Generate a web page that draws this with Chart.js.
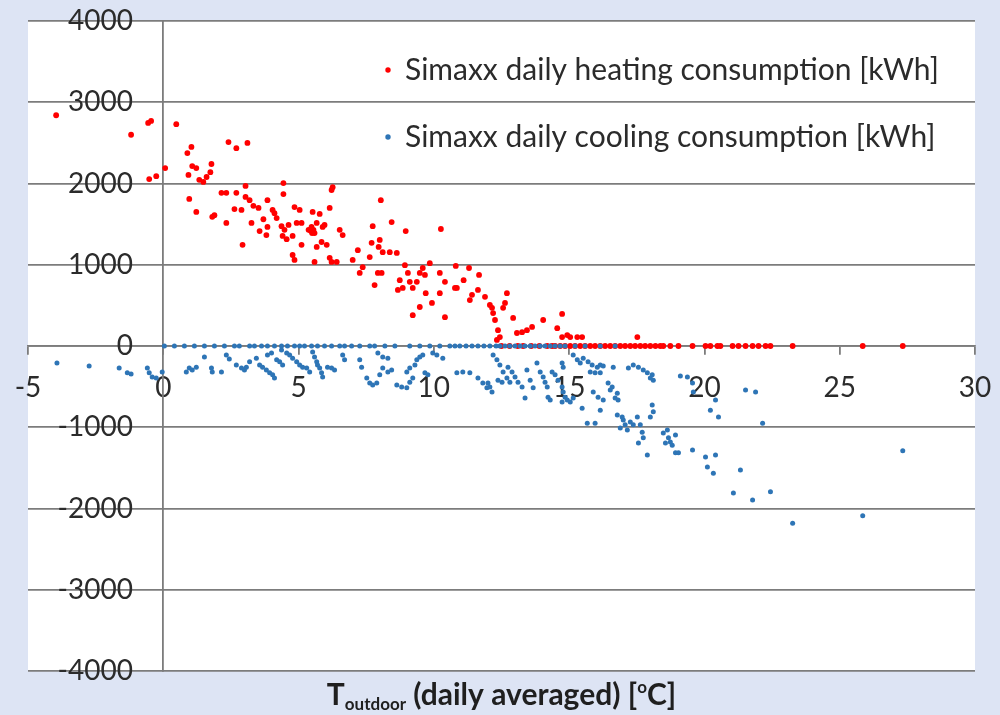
<!DOCTYPE html>
<html>
<head>
<meta charset="utf-8">
<title>Simaxx daily consumption vs outdoor temperature</title>
<script src="https://cdn.jsdelivr.net/npm/chart.js@4.4.0/dist/chart.umd.min.js"></script>
<style>
  html, body { margin: 0; padding: 0; background: #dde4f4; }
  #wrap { width: 1000px; height: 715px; position: relative; }
</style>
</head>
<body>
<div id="wrap"><canvas id="chart"></canvas></div>
<script>
// daily averaged outdoor temperature [°C] and heating consumption [kWh]
const heatingTemp = [
  -3.96, -1.19, -0.56, -0.45, 0.48, -0.52, -0.26, 0.07, 1.04, 0.89,
  1.07, 1.22, 0.93, 1.33, 1.48, 1.78, 1.74, 2.41, 2.70, 3.11,
  0.96, 1.22, 1.81, 1.89, 2.33, 2.15, 2.33, 2.70, 3.04, 3.04,
  2.63, 2.89, 3.19, 3.33, 3.52, 3.85, 4.44, 4.44, 6.26, 6.22,
  6.15, 2.93, 3.26, 3.56, 3.81, 3.85, 4.04, 4.11, 4.19, 4.37,
  4.48, 4.41, 4.56, 4.78, 4.85, 5.04, 4.78, 4.85, 5.11, 4.93,
  5.11, 5.37, 5.52, 5.59, 5.48, 5.67, 5.52, 5.78, 5.67, 5.59,
  5.89, 5.96, 5.85, 6.04, 6.15, 6.22, 6.41, 6.52, 6.63, 7.00,
  7.19, 7.26, 7.37, 7.63, 7.74, 8.04, 8.44, 7.70, 8.00, 7.96,
  8.11, 8.37, 8.63, 7.81, 7.93, 8.07, 8.96, 8.93, 8.74, 8.85,
  8.67, 9.11, 9.22, 9.37, 9.48, 9.59, 9.67, 9.85, 10.26, 10.41,
  10.41, 9.70, 9.93, 9.48, 9.22, 10.22, 10.81, 10.85, 11.30, 11.67,
  11.41, 11.33, 11.63, 11.89, 12.07, 12.15, 12.19, 12.26, 12.37, 12.44,
  12.33, 12.70, 12.63, 12.56, 12.93, 13.07, 13.26, 13.44, 13.63, 14.04,
  14.56, 14.74, 14.74, 14.93, 15.04, 15.30, 15.48, 17.52, 10.22, 10.78,
  5.45, 5.50, 5.55, 4.63, 3.70, 1.60, 9.04, 11.10,
  12.50, 12.80, 13.10, 13.30, 13.60, 13.90, 14.19, 14.37, 14.48, 14.67,
  14.85, 15.04, 15.22, 15.41, 15.59, 15.78, 15.96, 16.15, 16.33, 16.52,
  16.70, 16.89, 17.07, 17.26, 17.44, 17.63, 17.81, 18.00, 18.19, 18.37,
  18.48, 18.74, 19.04, 19.56, 20.04, 20.22, 20.48, 20.59, 21.04, 21.26,
  21.52, 21.78, 22.00, 22.26, 22.44, 23.26, 25.85, 27.33
];
const heatingKwh = [
  2840, 2600, 2745, 2770, 2730, 2055, 2090, 2190, 2450, 2375,
  2215, 2190, 2105, 2045, 2020, 2240, 2140, 2510, 2435, 2500,
  1810, 1650, 1590, 1610, 1515, 1885, 1885, 1885, 1970, 1835,
  1685, 1675, 1795, 1725, 1700, 1795, 2005, 1870, 1955, 1920,
  1700, 1245, 1515, 1415, 1365, 1465, 1675, 1635, 1575, 1475,
  1430, 1355, 1315, 1355, 1710, 1675, 1120, 1060, 1245, 1515,
  1515, 1430, 1405, 1390, 1465, 1515, 1650, 1625, 1220, 1035,
  1465, 1490, 1280, 1245, 1085, 1035, 1035, 1430, 1365, 1060,
  1180, 900, 970, 1095, 1475, 1795, 1525, 1270, 1305, 1220,
  1155, 1155, 1145, 750, 900, 900, 1415, 995, 810, 715,
  690, 790, 715, 790, 900, 960, 875, 1020, 1440, 790,
  355, 650, 530, 480, 380, 650, 985, 715, 960, 875,
  630, 565, 690, 605, 505, 470, 405, 320, 195, 110,
  75, 650, 530, 470, 345, 160, 170, 195, 235, 320,
  220, 395, 110, 135, 110, 110, 110, 110, 900, 715,
  1420, 1390, 1430, 1490, 1560, 2080, 900, 810,
  0, 0, 0, 0, 0, 0, 0, 0, 0, 0,
  0, 0, 0, 0, 0, 0, 0, 0, 0, 0,
  0, 0, 0, 0, 0, 0, 0, 0, 0, 0,
  0, 0, 0, 0, 0, 0, 0, 0, 0, 0,
  0, 0, 0, 0, 0, 0, 0, 0
];

// daily averaged outdoor temperature [°C] and cooling consumption [kWh]
const coolingTemp = [
  -3.93, -2.74, -1.63, -1.33, -1.19, -0.59, -0.52, -0.41, -0.26, -0.04,
  0.85, 0.96, 1.07, 1.22, 1.52, 1.78, 1.81, 2.33, 2.44, 2.15,
  2.70, 2.89, 3.00, 3.07, 3.19, 3.44, 3.56, 3.67, 3.81, 3.93,
  4.04, 4.11, 3.85, 4.00, 4.19, 4.30, 4.41, 4.37, 4.56, 4.67,
  4.78, 4.93, 5.04, 5.15, 5.30, 5.41, 5.52, 5.59, 5.67, 5.70,
  5.78, 5.85, 5.89, 6.07, 6.22, 6.33, 6.63, 6.70, 7.26, 7.33,
  7.52, 7.63, 7.74, 7.89, 8.00, 8.11, 8.30, 8.44, 7.93, 8.11,
  8.30, 8.63, 8.81, 9.00, 9.11, 9.22, 9.00, 9.11, 9.30, 9.37,
  9.48, 9.59, 9.67, 9.78, 9.96, 10.11, 10.33, 10.85, 11.07, 11.33,
  11.63, 11.81, 11.96, 12.07, 12.19, 12.33, 12.44, 12.56, 12.70, 12.81,
  12.00, 12.15, 12.37, 12.52, 12.74, 12.89, 13.00, 13.11, 13.26, 13.37,
  13.44, 13.56, 13.67, 13.81, 13.93, 14.04, 14.11, 14.19, 14.22, 14.30,
  14.37, 14.48, 14.59, 14.74, 14.78, 14.85, 14.93, 15.04, 15.15, 14.74,
  14.74, 14.78, 15.15, 15.30, 15.41, 15.48, 15.67, 15.96, 15.52, 15.70,
  15.85, 16.04, 16.15, 16.26, 15.78, 15.96, 16.15, 15.89, 16.07, 16.26,
  16.15, 16.44, 16.59, 16.63, 16.52, 16.78, 16.70, 16.81, 16.78, 16.96,
  17.00, 17.07, 16.89, 17.15, 17.26, 17.37, 17.52, 17.63, 17.70, 17.56,
  17.74, 17.89, 17.19, 17.37, 17.56, 17.74, 17.89, 18.07, 18.11, 18.00,
  18.07, 18.11, 18.00, 18.48, 18.63, 18.67, 18.74, 18.81, 18.93, 19.04,
  18.56, 19.11, 19.37, 19.56, 19.56, 19.59, 20.04, 20.11, 20.33, 20.41,
  20.41, 20.22, 20.52, 21.33, 21.52, 21.89, 22.15, 21.07, 21.78, 22.44,
  23.26, 25.85, 27.33, 18.93,
  0.04, 0.41, 0.78, 1.15, 1.52, 1.89, 2.26, 2.63, 2.81, 3.19,
  3.37, 3.63, 3.85, 4.11, 4.37, 4.59, 4.85, 5.04, 5.22, 5.48,
  5.70, 5.96, 6.22, 6.52, 6.70, 6.96, 7.26, 7.63, 7.81, 8.19,
  8.56, 9.11, 9.48, 9.85, 10.22, 10.59, 10.78, 10.96, 11.19, 11.41,
  11.63, 11.85, 12.07, 12.30, 12.44, 12.63, 12.81, 13.00, 13.19, 13.37,
  13.56, 13.74, 13.93, 14.11, 14.30, 14.48, 14.67, 14.85, 15.22, 15.59,
  16.15, 16.70
];
const coolingKwh = [
  -210, -245, -270, -330, -345, -270, -330, -380, -395, -320,
  -320, -270, -295, -260, -135, -270, -320, -110, -160, -320,
  -235, -270, -295, -260, -195, -150, -235, -260, -295, -330,
  -355, -395, -110, -85, -170, -195, -235, -50, -85, -110,
  -150, -195, -235, -260, -270, -320, -75, -135, -195, -235,
  -270, -330, -380, -260, -270, -295, -110, -170, -170, -260,
  -395, -455, -480, -455, -355, -270, -320, -295, -85, -135,
  -150, -480, -505, -515, -445, -395, -320, -270, -235, -170,
  -135, -110, -330, -355, -85, -110, -150, -330, -320, -330,
  -395, -455, -515, -505, -110, -170, -235, -320, -395, -445,
  -455, -565, -420, -445, -260, -320, -380, -445, -505, -640,
  -295, -420, -515, -210, -320, -380, -445, -505, -630, -665,
  -320, -355, -420, -505, -565, -630, -665, -690, -640, -690,
  -210, -260, -110, -170, -210, -765, -950, -950, -150, -195,
  -235, -260, -235, -245, -320, -330, -330, -565, -630, -665,
  -790, -455, -505, -260, -540, -580, -640, -665, -850, -875,
  -910, -970, -1010, -1035, -935, -970, -875, -970, -1060, -1195,
  -1130, -1340, -270, -235, -260, -295, -330, -355, -420, -395,
  -725, -810, -875, -1070, -1035, -1130, -1180, -1220, -1315, -1315,
  -1195, -370, -380, -455, -1280, -565, -1365, -1490, -1565, -1340,
  -665, -790, -875, -1525, -540, -565, -950, -1810, -1895, -1795,
  -2180, -2090, -1290, -1095,
  0, 0, 0, 0, 0, 0, 0, 0, 0, 0,
  0, 0, 0, 0, 0, 0, 0, 0, 0, 0,
  0, 0, 0, 0, 0, 0, 0, 0, 0, 0,
  0, 0, 0, 0, 0, 0, 0, 0, 0, 0,
  0, 0, 0, 0, 0, 0, 0, 0, 0, 0,
  0, 0, 0, 0, 0, 0, 0, 0, 0, 0,
  0, 0
];

const seriesLabels = [
  'Simaxx daily heating consumption [kWh]',
  'Simaxx daily cooling consumption [kWh]'
];

const COLORS = {
  heating: '#ff0000',
  cooling: '#2e75b6',
  page: '#dde4f4',
  plot: '#ffffff',
  grid: '#7c7c7c',
  text: '#2b2b2b',
};

const FONT = 'Lato, "DejaVu Sans", sans-serif';

const toPoints = (xs, ys) => xs.map((x, i) => ({ x, y: ys[i] }));

// page / plot backgrounds
const backgroundPlugin = {
  id: 'backgrounds',
  beforeDraw(chart) {
    const { ctx, chartArea: a } = chart;
    ctx.save();
    ctx.fillStyle = COLORS.page;
    ctx.fillRect(0, 0, chart.width, chart.height);
    ctx.fillStyle = COLORS.plot;
    ctx.fillRect(a.left, a.top, a.right - a.left, a.bottom - a.top);
    ctx.restore();
  }
};

// legend inside the plot, top right
const legendPlugin = {
  id: 'insideLegend',
  afterDraw(chart) {
    const { ctx } = chart;
    ctx.save();
    ctx.font = '30px ' + FONT;
    ctx.textBaseline = 'middle';
    const rows = [70, 137];
    chart.data.datasets.forEach((ds, i) => {
      ctx.beginPath();
      ctx.fillStyle = ds.backgroundColor;
      ctx.arc(388, rows[i], 2.7, 0, Math.PI * 2);
      ctx.fill();
      ctx.fillStyle = COLORS.text;
      ctx.fillText(ds.label, 405, rows[i]);
    });
    ctx.restore();
  }
};

// x axis title with subscript / superscript parts
const xTitlePlugin = {
  id: 'xTitle',
  afterDraw(chart) {
    const { ctx, chartArea: a } = chart;
    const parts = [
      { t: 'T', size: 30, dy: 0 },
      { t: 'outdoor', size: 17, dy: 5 },
      { t: ' (daily averaged) [', size: 30, dy: 0 },
      { t: 'o', size: 17, dy: -12 },
      { t: 'C]', size: 30, dy: 0 },
    ];
    ctx.save();
    ctx.fillStyle = '#1f1f1f';
    ctx.textBaseline = 'alphabetic';
    let total = 0;
    parts.forEach(p => {
      ctx.font = 'bold ' + p.size + 'px ' + FONT;
      p.w = ctx.measureText(p.t).width;
      total += p.w;
    });
    let x = (a.left + a.right) / 2 - total / 2;
    const base = 705;
    parts.forEach(p => {
      ctx.font = 'bold ' + p.size + 'px ' + FONT;
      ctx.fillText(p.t, x, base + p.dy);
      x += p.w;
    });
    ctx.restore();
  }
};

const yRange = { min: -4000, max: 4000 };

new Chart(document.getElementById('chart'), {
  type: 'scatter',
  data: {
    datasets: [
      {
        label: seriesLabels[0],
        data: toPoints(heatingTemp, heatingKwh),
        backgroundColor: COLORS.heating,
        borderColor: COLORS.heating,
        pointRadius: 2.9,
        borderWidth: 0,
        order: 1,
      },
      {
        label: seriesLabels[1],
        data: toPoints(coolingTemp, coolingKwh),
        backgroundColor: COLORS.cooling,
        borderColor: COLORS.cooling,
        pointRadius: 2.5,
        borderWidth: 0,
        order: 0,
      }
    ]
  },
  options: {
    responsive: true,
    maintainAspectRatio: false,
    animation: false,
    layout: { padding: { left: 28, right: 25, top: 21, bottom: 44 } },
    plugins: {
      legend: { display: false },
      tooltip: { enabled: false },
    },
    scales: {
      x: {
        type: 'linear',
        position: { y: 0 },
        min: -5,
        max: 30,
        grid: {
          drawOnChartArea: false,
          drawTicks: true,
          tickLength: 8,
          color: COLORS.grid,
          lineWidth: 1.8,
        },
        border: { color: COLORS.grid, width: 1.8 },
        ticks: {
          stepSize: 5,
          color: COLORS.text,
          font: { size: 28, family: FONT, lineHeight: 1.93 },
          padding: 7,
          maxRotation: 0,
          autoSkip: false,
          callback: v => String(v),
        }
      },
      // vertical axis line at T = 0 with the horizontal gridlines
      y: {
        type: 'linear',
        position: { x: 0 },
        ...yRange,
        grid: {
          drawTicks: false,
          color: COLORS.grid,
          lineWidth: 1.8,
        },
        border: { color: COLORS.grid, width: 1.8 },
        ticks: { stepSize: 1000, display: false }
      },
      // tick labels, set a little to the left of the axis line
      yLabels: {
        type: 'linear',
        position: { x: -1.12 },
        ...yRange,
        grid: { display: false, drawTicks: false },
        border: { display: false },
        ticks: {
          stepSize: 1000,
          color: COLORS.text,
          font: { size: 28, family: FONT },
          padding: 0,
          autoSkip: false,
          callback: v => String(v),
        }
      }
    }
  },
  plugins: [backgroundPlugin, legendPlugin, xTitlePlugin]
});
</script>
</body>
</html>
